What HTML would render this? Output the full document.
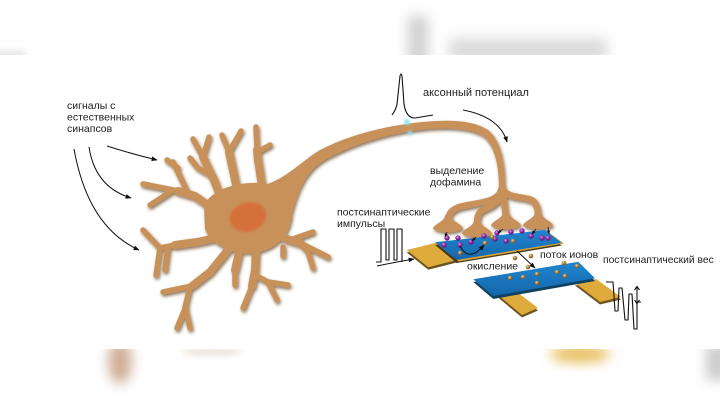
<!DOCTYPE html>
<html><head><meta charset="utf-8">
<style>
html,body{margin:0;padding:0;background:#fff;}
svg{display:block;}
text{font-family:"Liberation Sans","DejaVu Sans",sans-serif;fill:#1e1e1e;}
</style></head>
<body>
<svg width="720" height="405" viewBox="0 0 720 405" xmlns="http://www.w3.org/2000/svg">
<defs>
  <filter id="b6" x="-50%" y="-50%" width="200%" height="200%"><feGaussianBlur stdDeviation="6"/></filter>
  <filter id="b3" x="-50%" y="-50%" width="200%" height="200%"><feGaussianBlur stdDeviation="3"/></filter>
  <filter id="b1" x="-50%" y="-50%" width="200%" height="200%"><feGaussianBlur stdDeviation="1.2"/></filter>
  <filter id="sh" x="-10%" y="-10%" width="120%" height="120%">
    <feDropShadow dx="1.2" dy="2" stdDeviation="1.5" flood-color="#5a3815" flood-opacity="0.7"/>
  </filter>
  <clipPath id="topc"><rect x="0" y="0" width="720" height="55"/></clipPath>
  <clipPath id="botc"><rect x="0" y="349" width="720" height="56"/></clipPath>
  <marker id="ah" viewBox="0 0 10 10" refX="9" refY="5" markerWidth="6" markerHeight="6" orient="auto" markerUnits="userSpaceOnUse">
    <path d="M0,1 L10,5 L0,9 z" fill="#111"/>
  </marker>
  <marker id="ahs" viewBox="0 0 10 10" refX="9" refY="5" markerWidth="4" markerHeight="4" orient="auto" markerUnits="userSpaceOnUse">
    <path d="M0,1 L10,5 L0,9 z" fill="#111"/>
  </marker>
  <linearGradient id="blue" x1="0" y1="0" x2="0" y2="1">
    <stop offset="0" stop-color="#1f86d0"/><stop offset="1" stop-color="#1566aa"/>
  </linearGradient>
  <radialGradient id="pd" cx="0.4" cy="0.35" r="0.6">
    <stop offset="0" stop-color="#e0a0ee"/><stop offset="0.5" stop-color="#9a30aa"/><stop offset="1" stop-color="#5c1670"/>
  </radialGradient>
  <radialGradient id="gd" cx="0.4" cy="0.35" r="0.6">
    <stop offset="0" stop-color="#f2dca0"/><stop offset="0.5" stop-color="#b88a45"/><stop offset="1" stop-color="#7a5520"/>
  </radialGradient>
</defs>

<rect width="720" height="405" fill="#fff"/>

<!-- top blurred reflection -->
<g clip-path="url(#topc)">
  <rect x="0" y="0" width="720" height="55" fill="#fefefe"/>
  <rect x="408" y="16" width="20" height="50" fill="#d2d2d2" filter="url(#b6)"/>
  <rect x="450" y="38" width="156" height="24" fill="#dcdcdc" filter="url(#b6)"/>
  <rect x="-10" y="50" width="35" height="12" fill="#e8e8e8" filter="url(#b3)"/>
</g>
<!-- bottom blurred reflection -->
<g clip-path="url(#botc)">
  <ellipse cx="120" cy="362" rx="12" ry="22" fill="#d0ae96" filter="url(#b6)"/>
  <ellipse cx="212" cy="352" rx="30" ry="4" fill="#ece4dc" filter="url(#b3)"/>
  <ellipse cx="580" cy="354" rx="30" ry="9" fill="#e8c062" filter="url(#b6)"/>
  <rect x="706" y="345" width="24" height="35" fill="#cccccc" filter="url(#b6)"/>
</g>

<!-- neuron -->
<g filter="url(#sh)">
  <g fill="#c8915a">
    <path d="M204,206 C210,190 236,181 266,183 L292,206 C294,228 282,248 256,253 C234,256 212,246 205,229 Z"/>
    <path d="M262,186 C288,178 300,162 320,150 C345,137 375,128 413,123 C440,120 470,118 488,130 C500,140 505,160 505,188 L499,188 C499,163 494,146 484,137 C470,127 440,127 413,131 C380,136 350,146 325,160 C305,172 298,192 292,214 Z"/>
  </g>
  <g fill="none" stroke="#c8915a" stroke-linecap="round" stroke-linejoin="round">
    <g stroke-width="6.5">
      <path d="M501,190 C499,203 472,203 459,207 C451,210 448,214 448,222"/>
      <path d="M500,196 C497,206 484,208 480,212 C477,216 477,220 477,226"/>
      <path d="M502,186 L506,218"/>
      <path d="M503,190 C510,200 530,195 535,203 C538,208 538,212 538,218"/>
    </g>
    <g stroke-width="8">
      <path d="M222,200 L214,180 L203,157"/>
      <path d="M238,195 L234,175 L229,152"/>
      <path d="M262,186 L258,160 L257,150"/>
      <path d="M218,212 L195,196 L178,191"/>
      <path d="M225,236 L197,242 L175,245"/>
      <path d="M232,245 L210,272 L192,286"/>
      <path d="M256,246 L255,270 L252,286"/>
      <path d="M268,232 L290,240 L300,243"/>
      <path d="M240,248 L235,270"/>
    </g>
    <g stroke-width="5.5">
      <path d="M203,157 L193,139"/><path d="M203,157 L209,137"/>
      <path d="M229,152 L222,135"/><path d="M229,152 L241,131"/>
      <path d="M257,150 L256,127"/><path d="M257,152 L270,145"/>
      <path d="M212,176 L198,168 L190,158"/>
      <path d="M178,191 L143,184"/><path d="M188,193 L173,162"/><path d="M178,168 L167,160"/>
      <path d="M170,192 L150,205"/>
      <path d="M175,245 L160,248 L143,230"/><path d="M160,248 L156,275"/><path d="M168,247 L165,270"/>
      <path d="M192,286 L163,292"/><path d="M190,287 L185,307 L190,328"/><path d="M186,306 L177,328"/>
      <path d="M235,270 L235,285"/>
      <path d="M252,286 L243,308"/><path d="M255,275 L268,282 L288,285"/><path d="M268,282 L277,300"/>
      <path d="M290,240 L313,232"/><path d="M300,243 L308,252 L313,268"/><path d="M300,243 L320,253 L328,257"/><path d="M283,247 L283,256"/>
    </g>
  </g>
  <g fill="#c8915a">
    <path d="M445,215 C445,222 433,224 433,229 Q448,236 463,229 C463,224 451,222 451,215 Z"/>
    <path d="M474,220 C474,227 462,229 462,234 Q477,241 492,234 C492,229 480,227 480,220 Z"/>
    <path d="M503,212 C503,219 491,221 491,226 Q506,233 521,226 C521,221 509,219 509,212 Z"/>
    <path d="M535,212 C535,219 523,221 523,226 Q538,233 553,226 C553,221 541,219 541,212 Z"/>
  </g>
</g>
<ellipse cx="248" cy="217" rx="18.5" ry="14.5" fill="#d6703a" filter="url(#b1)" transform="rotate(-15 248 217)"/>
<circle cx="407" cy="122" r="3" fill="#8fe4f2" filter="url(#b1)"/>
<circle cx="410" cy="133" r="2.2" fill="#8fe4f2" filter="url(#b1)"/>

<!-- top device -->
<polygon points="406.7,252.5 436,245.2 456.7,262.5 428.3,269.8" fill="#6e5520"/>
<polygon points="406.7,250 436,242.7 456.7,260 428.3,267.3" fill="#deaa3c"/>
<polygon points="435,245 545,232.5 561.7,245.5 456.7,263" fill="#4a3a18"/>
<polygon points="437,243.5 547,231 564,243.5 458.7,261.5" fill="#d9a63a"/>
<polygon points="435,242.3 545,230 561.7,242.7 456.7,260" fill="url(#blue)"/>

<!-- bottom device -->
<polygon points="498,297.5 517,294.5 538,310.5 522,317.5" fill="#6e5520"/>
<polygon points="498,295 517,292 538,308 522,315" fill="#deaa3c"/>
<polygon points="575,285.5 596,281.5 621,299.5 600,304.5" fill="#6e5520"/>
<polygon points="575,283 596,279 621,297 600,302" fill="#deaa3c"/>
<polygon points="473.3,282 578.3,264.5 595,281 493.3,299" fill="#12405f"/>
<polygon points="473.3,279.3 578.3,261.7 595,278.3 493.3,296" fill="url(#blue)"/>

<!-- dots -->
<g fill="url(#pd)">
  <circle cx="444" cy="245" r="2.7"/><circle cx="447" cy="238" r="2.7"/><circle cx="458" cy="238" r="2.7"/>
  <circle cx="460" cy="245" r="2.7"/><circle cx="471" cy="242" r="2.7"/><circle cx="484" cy="236" r="2.7"/>
  <circle cx="495" cy="239" r="2.7"/><circle cx="497" cy="233" r="2.7"/><circle cx="506" cy="241" r="2.7"/>
  <circle cx="511" cy="232" r="2.7"/><circle cx="522" cy="231" r="2.7"/><circle cx="531" cy="236" r="2.7"/>
  <circle cx="542" cy="238" r="2.7"/><circle cx="548" cy="238" r="2.7"/>
</g>
<g fill="url(#gd)">
  <circle cx="460" cy="253" r="2.3"/><circle cx="485" cy="243" r="2.3"/><circle cx="492" cy="237" r="2.3"/>
  <circle cx="513" cy="241" r="2.3"/>
  <circle cx="515" cy="258" r="2.3"/><circle cx="531" cy="256" r="2.3"/><circle cx="528" cy="267" r="2.3"/>
  <circle cx="564" cy="263" r="2.3"/>
  <circle cx="510" cy="278" r="2.3"/><circle cx="523" cy="277" r="2.3"/><circle cx="537" cy="283" r="2.3"/>
  <circle cx="537" cy="274" r="2.3"/><circle cx="557" cy="272" r="2.3"/><circle cx="565" cy="276" r="2.3"/>
  <circle cx="577" cy="266" r="2.3"/>
</g>

<!-- connectors / arrows -->
<g fill="none" stroke="#111" stroke-width="1">
  <path d="M107,146 Q132,154 157,160" marker-end="url(#ah)"/>
  <path d="M89,147 Q95,187 131,198" marker-end="url(#ah)"/>
  <path d="M74,149 Q88,227 139,250" marker-end="url(#ah)"/>
  <path d="M463,110 Q500,117 507,142" marker-end="url(#ah)"/>
  <path d="M377,266 Q396,262 414,259" marker-end="url(#ah)"/>
  <path d="M517,251 L535,268" marker-end="url(#ah)"/>
  <path d="M460,246 Q469,263 484,245" marker-end="url(#ah)"/>
  <g stroke-width="0.8">
    <path d="M447,232 L445,237" marker-end="url(#ahs)"/>
    <path d="M476,237 L472,241" marker-end="url(#ahs)"/>
    <path d="M503,229 L498,233" marker-end="url(#ahs)"/>
    <path d="M536,229 L532,234" marker-end="url(#ahs)"/>
    <path d="M548,227 L549,234" marker-end="url(#ahs)"/>
  </g>
</g>

<!-- waveforms -->
<g fill="none" stroke="#111" stroke-width="1.1" stroke-linejoin="round">
  <path d="M392,115 C394,112 396,110 397,104 L400,76 Q401,72 402,76 L404,104 Q406,118 415,118 L433,115"/>
  <path d="M376,262 L381,262 L381,229 L386,229 L386,260 L389,260 L389,229 L394,229 L394,260 L397,260 L397,229 L402,229 L402,262"/>
  <path d="M606,282 L613,282 L615,311 L618,311 L619,288 L622,288 L625,320 L628,320 L629,294 L632,294 L634,329 L637,329 L637,302 L641,302"/>
  <path d="M637,287 L637,303"/>
  <path d="M634.5,290 L637,286.5 L639.5,290"/>
  <path d="M634.5,300 L637,303.5 L639.5,300"/>
</g>

<!-- labels -->
<g font-size="10.5">
  <text x="67" y="109">сигналы с</text>
  <text x="67" y="120.5">естественных</text>
  <text x="67" y="132">синапсов</text>
  <text x="423" y="96" font-size="11">аксонный потенциал</text>
  <text x="430" y="174">выделение</text>
  <text x="430" y="185.5">дофамина</text>
  <text x="337" y="215.5">постсинаптические</text>
  <text x="337" y="227">импульсы</text>
  <text x="467" y="269.5">окисление</text>
  <text x="540" y="258">поток ионов</text>
  <text x="603" y="263" font-size="10.3">постсинаптический вес</text>
</g>
</svg>
</body></html>
